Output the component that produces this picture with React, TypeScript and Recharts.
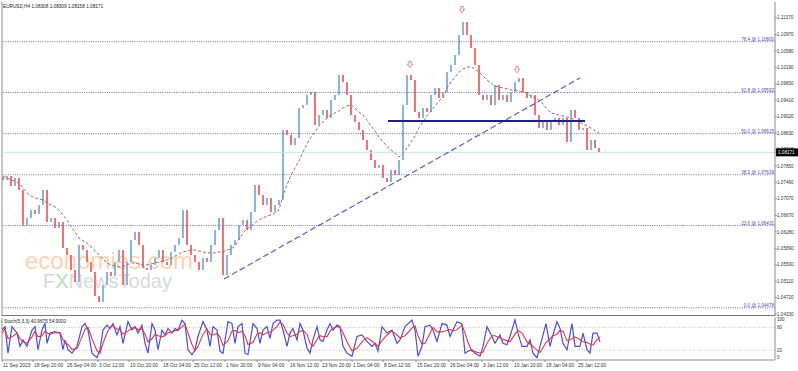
import React from "react";
import {
  Bar,
  Cell,
  ComposedChart,
  Line,
  ReferenceDot,
  ReferenceLine,
  XAxis,
  YAxis,
} from "recharts";

const FONT = "'Liberation Sans', Arial, sans-serif";
const UP = "#88b4de";
const DOWN = "#f27272";
const STEP = 4; // each drawn candle covers 4 H4 bars (1 px per H4 bar)

// closes of the drawn candles, left to right
const closes = [
  1.07514, 1.07609, 1.07372, 1.07562, 1.07277, 1.06421, 1.06611, 1.06801, 1.06706, 1.0692,
  1.07277, 1.06516, 1.06611, 1.06374, 1.06516, 1.05899, 1.05732, 1.05376, 1.05091, 1.0597,
  1.05851, 1.05566, 1.05328, 1.04758, 1.04616, 1.05019, 1.05328, 1.05233, 1.05566, 1.05851,
  1.05019, 1.05566, 1.06089, 1.06279, 1.0597, 1.05423, 1.05376, 1.05495, 1.05661, 1.05851,
  1.05566, 1.05495, 1.05804, 1.0597, 1.06136, 1.06801, 1.0597, 1.05732, 1.05566, 1.05376,
  1.05661, 1.05566, 1.0597, 1.06326, 1.06611, 1.05257, 1.05732, 1.0597, 1.06089, 1.06445,
  1.06564, 1.06326, 1.06754, 1.07395, 1.07158, 1.0692, 1.07087, 1.06754, 1.0692, 1.07039,
  1.08702, 1.08583, 1.08346, 1.08512, 1.09225, 1.09296, 1.09534, 1.09605, 1.08821, 1.09059,
  1.09177, 1.08987, 1.09415, 1.09534, 1.10009, 1.09843, 1.09534, 1.09059, 1.08892, 1.08702,
  1.08465, 1.08227, 1.07989, 1.07799, 1.07871, 1.07562, 1.07467, 1.07752, 1.07633, 1.07989,
  1.09296, 1.10009, 1.0989, 1.0913, 1.08987, 1.09225, 1.0913, 1.09534, 1.097, 1.09463,
  1.09605, 1.1008, 1.10247, 1.10484, 1.10959, 1.11268, 1.10959, 1.10651, 1.10247, 1.09534,
  1.09415, 1.09534, 1.09296, 1.09771, 1.09415, 1.09534, 1.09368, 1.09605, 1.09843, 1.09938,
  1.09605, 1.09463, 1.09534, 1.09059, 1.0875, 1.08892, 1.08702, 1.0894, 1.08987, 1.08821,
  1.08987, 1.08417, 1.09177, 1.08987, 1.08702, 1.0875, 1.08227, 1.08465, 1.08275, 1.08171,
];
const firstOpen = 1.0758;

// moving average (brown dashed)
const maValues = [
  1.07609, 1.07562, 1.07514, 1.07491, 1.07443, 1.07324, 1.07205, 1.07134, 1.07087, 1.07063,
  1.07039, 1.06968, 1.0692, 1.06873, 1.06801, 1.06683, 1.06564, 1.06421, 1.06279, 1.06136,
  1.06065, 1.06017, 1.05922, 1.05827, 1.05732, 1.05637, 1.05542, 1.05495, 1.05471, 1.05447,
  1.05471, 1.05495, 1.05542, 1.05542, 1.05518, 1.05495, 1.05495, 1.05518, 1.05542, 1.05566,
  1.0559, 1.05613, 1.05637, 1.05708, 1.05756, 1.05804, 1.05827, 1.05851, 1.05851, 1.05827,
  1.05804, 1.0578, 1.0578, 1.0578, 1.05804, 1.05804, 1.05851, 1.05875, 1.05946, 1.06112,
  1.06255, 1.0635, 1.06421, 1.06492, 1.06564, 1.06611, 1.06659, 1.06683, 1.0673, 1.06801,
  1.07158, 1.07395, 1.07633, 1.07799, 1.07966, 1.0818, 1.08369, 1.08536, 1.08655, 1.08797,
  1.08892, 1.08987, 1.09059, 1.09106, 1.09154, 1.09225, 1.09272, 1.09296, 1.09225, 1.0913,
  1.09059, 1.0894, 1.08797, 1.08678, 1.08536, 1.08417, 1.08322, 1.08227, 1.08156, 1.08061,
  1.08156, 1.08275, 1.08417, 1.0856, 1.0875, 1.08892, 1.09035, 1.09154, 1.09272, 1.09391,
  1.09486, 1.097, 1.09843, 1.09962, 1.1008, 1.10152, 1.10199, 1.10199, 1.10152, 1.1008,
  1.09985, 1.0989, 1.09819, 1.09748, 1.09724, 1.097, 1.09676, 1.09653, 1.09653, 1.09629,
  1.09605, 1.09581, 1.0951, 1.09463, 1.09415, 1.0932, 1.09201, 1.09106, 1.09082, 1.09059,
  1.09035, 1.09011, 1.08987, 1.0894, 1.08892, 1.08845, 1.08797, 1.0875, 1.08678, 1.08631,
];

const fibLevels = ["76.4", "61.8", "50.0", "38.2", "23.6", "0.0"];
const fibPrices = [1.108, 1.09592, 1.08615, 1.07639, 1.06431, 1.04478];

const priceTicks = [
  1.1137, 1.1097, 1.1058, 1.1019, 1.098, 1.0941, 1.0902, 1.0863, 1.0824, 1.0785,
  1.0746, 1.0707, 1.0667, 1.0628, 1.0589, 1.055, 1.0511, 1.0472, 1.0433,
];
const lastPrice = 1.08171;
const PRICE_MAX = 1.11743;
const PRICE_MIN = 1.04282;

// drawn objects (bar index, price)
const trendBars = [221, 577];
const trendPrices = [1.05162, 1.09938];
const necklineBars = [385, 582];
const necklinePrice = 1.08916;
const faintBars = [-1, 95];
const faintPrices = [1.06992, 1.04592];
const fractalBars = [407, 459, 514];
const fractalPrices = [1.10247, 1.11553, 1.10128];

const timeTickBars = [-1, 30, 63, 95, 126, 159, 190, 222, 254, 286, 318, 349, 380, 413, 446, 479, 510, 542, 574];
const timeTickLabels = [
  "11 Sep 2023", "18 Sep 20:00", "26 Sep 04:00", "3 Oct 12:00", "10 Oct 20:00", "18 Oct 04:00",
  "25 Oct 12:00", "1 Nov 20:00", "9 Nov 04:00", "16 Nov 12:00", "23 Nov 20:00", "1 Dec 04:00",
  "8 Dec 12:00", "15 Dec 20:00", "26 Dec 04:00", "3 Jan 12:00", "10 Jan 20:00", "18 Jan 04:00",
  "25 Jan 12:00",
];

// Stochastic (5,3,3)
const stochBars = [
  -1, 2, 5, 9, 14, 17, 20, 24, 29, 32, 35, 39, 42, 44, 47, 52, 57, 60, 62, 65,
  69, 74, 79, 82, 85, 89, 94, 97, 100, 104, 107, 110, 114, 117, 120, 125, 129, 132, 135, 139,
  142, 145, 149, 152, 155, 159, 162, 165, 169, 172, 175, 179, 182, 185, 189, 192, 195, 200, 204, 207,
  210, 214, 217, 220, 225, 229, 232, 235, 239, 242, 245, 250, 254, 257, 260, 264, 267, 270, 274, 277,
  280, 284, 287, 290, 294, 297, 300, 304, 307, 310, 314, 317, 320, 324, 327, 330, 334, 337, 340, 344,
  349, 354, 359, 364, 369, 372, 375, 379, 384, 389, 394, 397, 402, 409, 412, 415, 419, 422, 427, 430,
  434, 439, 444, 447, 450, 454, 459, 462, 465, 469, 472, 477, 480, 484, 489, 492, 497, 500, 504, 507,
  512, 515, 519, 524, 527, 530, 534, 537, 543, 547, 550, 554, 557, 560, 564, 569, 572, 577, 580, 584,
  587, 590, 594, 597,
];
const stochMain = [
  73, 82, 12, 82, 65, 30, 47, 30, 73, 82, 21, 73, 90, 38, 65, 69, 65, 21, 47, 21,
  12, 30, 82, 90, 73, 12, 0, 21, 73, 86, 77, 90, 60, 82, 38, 95, 73, 82, 65, 86,
  38, 12, 90, 73, 21, 73, 60, 77, 65, 77, 73, 99, 90, 21, 8, 21, 56, 95, 73, 30,
  82, 73, 17, 12, 95, 90, 38, 82, 90, 12, 8, 90, 77, 38, 73, 82, 51, 90, 99, 99,
  73, 30, 65, 77, 47, 90, 73, 25, 12, 47, 82, 47, 43, 73, 90, 73, 86, 82, 30, 12,
  4, 56, 60, 43, 30, 38, 17, 82, 65, 73, 38, 47, 82, 99, 73, 4, 30, 82, 86, 73,
  43, 90, 86, 56, 73, 95, 90, 12, 17, 21, 12, 4, 30, 82, 56, 38, 60, 38, 34, 56,
  100, 65, 30, 30, 47, 12, 0, 30, 90, 30, 60, 95, 77, 38, 21, 90, 30, 30, 65, 21,
  12, 65, 65, 41,
];
const stochSignal = [
  65, 75, 50, 55, 65, 50, 42, 38, 55, 70, 55, 58, 70, 65, 62, 66, 66, 48, 40, 35,
  22, 24, 55, 75, 80, 50, 18, 12, 38, 65, 80, 84, 75, 75, 62, 70, 78, 80, 74, 76,
  62, 42, 50, 62, 58, 55, 58, 66, 68, 72, 72, 82, 88, 65, 35, 18, 30, 62, 76, 62,
  60, 64, 55, 32, 45, 70, 72, 66, 70, 58, 35, 40, 62, 66, 60, 66, 68, 72, 82, 94,
  88, 65, 56, 58, 62, 70, 72, 62, 38, 30, 48, 58, 56, 55, 70, 78, 82, 80, 66, 42,
  18, 25, 42, 53, 44, 38, 30, 45, 60, 70, 60, 52, 58, 78, 84, 58, 36, 38, 64, 80,
  68, 68, 72, 75, 70, 74, 86, 66, 40, 17, 16, 12, 15, 38, 58, 58, 52, 48, 45, 42,
  62, 72, 65, 42, 36, 30, 20, 14, 40, 50, 58, 62, 72, 70, 45, 50, 55, 48, 42, 40,
  36, 33, 47, 55,
];
const stochLevels = [0, 20, 80, 100];

const candles = closes.map((c, i) => {
  const o = i === 0 ? firstOpen : closes[i - 1];
  return { bar: i * STEP, body: [Math.min(o, c), Math.max(o, c)], up: c >= o, ma: maValues[i] };
});

const stochData = stochBars.map((b, i) => ({ bar: b, k: stochMain[i], d: stochSignal[i] }));

function PriceTick(props: any) {
  const { x, y, payload } = props;
  const v = payload.value as number;
  if (v === lastPrice) {
    return (
      <g>
        <rect x={x - 1} y={y - 4} width={22} height={8} fill="#000" />
        <text x={x + 1} y={y + 1.7} fontSize={4.6} fill="#fff" fontFamily={FONT}>
          {v.toFixed(5)}
        </text>
      </g>
    );
  }
  return (
    <text x={x} y={y + 1.7} fontSize={4.6} fill="#333" fontFamily={FONT}>
      {v.toFixed(5)}
    </text>
  );
}

function StochTick(props: any) {
  const { x, y, payload } = props;
  return (
    <text x={x} y={y + 1.7} fontSize={4.6} fill="#333" fontFamily={FONT}>
      {payload.value}
    </text>
  );
}

function TimeTick(props: any) {
  const { x, y, payload } = props;
  const i = timeTickBars.indexOf(payload.value);
  return (
    <text x={x + 1} y={y + 5} fontSize={4.9} fill="#333" fontFamily={FONT}>
      {timeTickLabels[i]}
    </text>
  );
}

function FibLabel(props: any) {
  const { viewBox, text } = props;
  if (!viewBox) return null;
  return (
    <text
      x={viewBox.x + viewBox.width - 1}
      y={viewBox.y - 1}
      textAnchor="end"
      fontSize={4.6}
      fill="#4b4bab"
      fontFamily={FONT}
    >
      {text}
    </text>
  );
}

function FractalArrow(props: any) {
  const { cx, cy } = props;
  return (
    <path
      d={`M${cx - 1.2},${cy - 3.5} h2.4 v2.8 h1.4 l-2.6,3.6 l-2.6,-3.6 h1.4 z`}
      fill="#fff"
      stroke="#f06a6a"
      strokeWidth={0.8}
    />
  );
}

export default function App() {
  return (
    <div style={{ position: "absolute", left: 0, top: 0, width: 798, height: 371, background: "#fff" }}>
      <svg width={798} height={371} style={{ position: "absolute", left: 0, top: 0 }}>
        <text x={25} y={269} fontSize={24} fill="#fbd2b2" fontFamily={FONT}>
          economies.com
        </text>
        <text x={43} y={288} fontSize={20} fill="#d9d9d9" fontFamily={FONT}>
          F<tspan fill="#b9dcb9">X</tspan>NewsToday
        </text>
        <text x={3} y={8} fontSize={4.7} fill="#222" fontFamily={FONT}>
          EURUSD,H4  1.08308 1.08309 1.08158 1.08171
        </text>
        <text x={4} y={323} fontSize={4.7} fill="#222" fontFamily={FONT}>
          Stoch(5,3,3) 40.9675 54.9000
        </text>
      </svg>

      <div style={{ position: "absolute", left: 0, top: 0 }}>
        <ComposedChart width={798} height={316} data={candles} margin={{ top: 2, right: 0, bottom: 0, left: 2 }}>
          <XAxis type="number" dataKey="bar" domain={[-1, 772]} hide allowDataOverflow />
          <YAxis
            orientation="right"
            width={23}
            domain={[PRICE_MIN, PRICE_MAX]}
            ticks={[...priceTicks, lastPrice]}
            interval={0}
            allowDataOverflow
            axisLine={{ stroke: "#8a8a8a" }}
            tickLine={{ stroke: "#8a8a8a" }}
            tickSize={2}
            tickMargin={0}
            tick={<PriceTick />}
          />
          <ReferenceLine x={-1} stroke="#8a8a8a" />
          <ReferenceLine y={PRICE_MIN} stroke="#777" strokeWidth={2} />
          {fibPrices.map((p, i) => (
            <ReferenceLine
              key={fibLevels[i]}
              y={p}
              stroke="#6c6cc8"
              strokeDasharray="1 1.3"
              label={<FibLabel text={`${fibLevels[i]} @ ${p.toFixed(5)}`} />}
            />
          ))}
          <ReferenceLine y={lastPrice} stroke="#bfe7ea" />
          <ReferenceLine
            segment={[
              { x: faintBars[0], y: faintPrices[0] },
              { x: faintBars[1], y: faintPrices[1] },
            ]}
            stroke="#e2e2e2"
            strokeDasharray="1 2"
          />
          <Bar dataKey="body" barSize={2} minPointSize={1} isAnimationActive={false}>
            {candles.map((d, i) => (
              <Cell key={i} fill={d.up ? UP : DOWN} />
            ))}
          </Bar>
          <Line
            dataKey="ma"
            stroke="#b4625c"
            strokeWidth={1}
            strokeDasharray="3 2"
            dot={false}
            isAnimationActive={false}
          />
          <ReferenceLine
            segment={[
              { x: trendBars[0], y: trendPrices[0] },
              { x: trendBars[1], y: trendPrices[1] },
            ]}
            stroke="#5b5bc9"
            strokeWidth={1.2}
            strokeDasharray="6 3"
          />
          <ReferenceLine
            segment={[
              { x: necklineBars[0], y: necklinePrice },
              { x: necklineBars[1], y: necklinePrice },
            ]}
            stroke="#1f1f80"
            strokeWidth={2}
          />
          {fractalBars.map((b, i) => (
            <ReferenceDot key={b} x={b} y={fractalPrices[i]} r={3} shape={<FractalArrow />} />
          ))}
        </ComposedChart>
      </div>

      <div style={{ position: "absolute", left: 0, top: 316 }}>
        <ComposedChart width={798} height={55} data={stochData} margin={{ top: 1.5, right: 0, bottom: 0, left: 2 }}>
          <XAxis
            type="number"
            dataKey="bar"
            domain={[-1, 772]}
            allowDataOverflow
            ticks={timeTickBars}
            interval={0}
            height={11}
            axisLine={{ stroke: "#8a8a8a" }}
            tickLine={{ stroke: "#8a8a8a" }}
            tickSize={2}
            tickMargin={0}
            tick={<TimeTick />}
          />
          <YAxis
            orientation="right"
            width={23}
            domain={[-6, 106]}
            ticks={stochLevels}
            interval={0}
            allowDataOverflow
            axisLine={{ stroke: "#8a8a8a" }}
            tickLine={false}
            tickSize={2}
            tickMargin={0}
            tick={<StochTick />}
          />
          <ReferenceLine x={-1} stroke="#8a8a8a" />
          <ReferenceLine y={80} stroke="#c4c4c4" strokeDasharray="1 1.5" />
          <ReferenceLine y={20} stroke="#c4c4c4" strokeDasharray="1 1.5" />
          <Line dataKey="k" stroke="#4b4be8" strokeWidth={1.2} dot={false} isAnimationActive={false} />
          <Line dataKey="d" stroke="#e8323c" strokeWidth={1.1} dot={false} isAnimationActive={false} />
        </ComposedChart>
      </div>
    </div>
  );
}
